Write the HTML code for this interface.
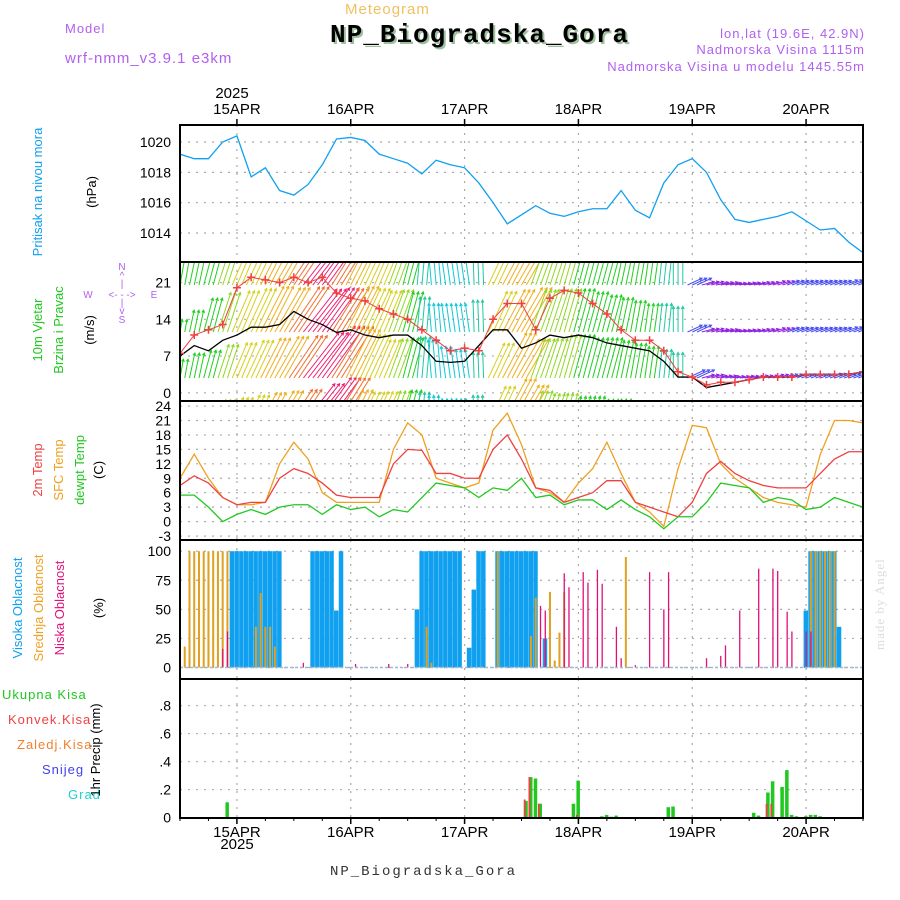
<!DOCTYPE html>
<html><head><meta charset="utf-8"><style>
html,body{margin:0;padding:0;background:#fff}
svg{display:block;font-family:"Liberation Sans",sans-serif}
</style></head><body>
<svg id="chart" width="900" height="900" viewBox="0 0 900 900">
<rect x="0" y="0" width="900" height="900" fill="#fff"/>
<text x="345" y="14" fill="#f0c060" font-size="15" letter-spacing="1">Meteogram</text>
<text x="65" y="33" fill="#b060f0" font-size="13" letter-spacing="1">Model</text>
<text x="65" y="63" fill="#b060f0" font-size="15" letter-spacing="1">wrf-nmm_v3.9.1 e3km</text>
<text x="332" y="44" fill="#9fc09f" font-size="26" font-weight="bold" font-family="Liberation Mono,monospace" textLength="298">NP_Biogradska_Gora</text>
<text x="330" y="42" fill="#000" font-size="26" font-weight="bold" font-family="Liberation Mono,monospace" textLength="298">NP_Biogradska_Gora</text>
<text x="865" y="38" fill="#b060f0" font-size="13" text-anchor="end" letter-spacing="1">lon,lat (19.6E, 42.9N)</text>
<text x="865" y="54" fill="#b060f0" font-size="13" text-anchor="end" letter-spacing="1">Nadmorska Visina 1115m</text>
<text x="865" y="71" fill="#b060f0" font-size="13" text-anchor="end" letter-spacing="1">Nadmorska Visina u modelu 1445.55m</text>
<text x="232" y="98" font-size="15" text-anchor="middle">2025</text>
<text x="237" y="849" font-size="15" text-anchor="middle">2025</text>
<text x="330" y="875" font-size="14" fill="#333" font-family="Liberation Mono,monospace" textLength="185">NP_Biogradska_Gora</text>
<text transform="translate(884,650) rotate(-90)" font-size="13" fill="#d8e0d8" font-family="Liberation Serif,serif" letter-spacing="1">made by Angel</text>
<!-- left axis titles -->
<text transform="translate(42,192) rotate(-90)" text-anchor="middle" font-size="13" fill="#10a0f0">Pritisak na nivou mora</text>
<text transform="translate(96,192) rotate(-90)" text-anchor="middle" font-size="13">(hPa)</text>
<text transform="translate(42,330) rotate(-90)" text-anchor="middle" font-size="13" fill="#20c820">10m Vjetar</text>
<text transform="translate(63,330) rotate(-90)" text-anchor="middle" font-size="13" fill="#20c820">Brzina i Pravac</text>
<text transform="translate(94,330) rotate(-90)" text-anchor="middle" font-size="13">(m/s)</text>
<g fill="#b060f0" font-size="10" text-anchor="middle">
<text x="122" y="270">N</text><text x="122" y="279">^</text><text x="122" y="287">|</text>
<text x="122" y="298">&lt;- - -&gt;</text><text x="88" y="298">W</text><text x="154" y="298">E</text>
<text x="122" y="306">|</text><text x="122" y="314">v</text><text x="122" y="323">S</text>
</g>
<text transform="translate(42,470) rotate(-90)" text-anchor="middle" font-size="13" fill="#f04040">2m Temp</text>
<text transform="translate(63,470) rotate(-90)" text-anchor="middle" font-size="13" fill="#f0a020">SFC Temp</text>
<text transform="translate(84,470) rotate(-90)" text-anchor="middle" font-size="13" fill="#20c820">dewpt Temp</text>
<text transform="translate(103,470) rotate(-90)" text-anchor="middle" font-size="13">(C)</text>
<text transform="translate(22,608) rotate(-90)" text-anchor="middle" font-size="13" fill="#10a0f0">Visoka Oblacnost</text>
<text transform="translate(43,608) rotate(-90)" text-anchor="middle" font-size="13" fill="#f0a020">Srednja Oblacnost</text>
<text transform="translate(64,608) rotate(-90)" text-anchor="middle" font-size="13" fill="#e0107a">Niska Oblacnost</text>
<text transform="translate(103,608) rotate(-90)" text-anchor="middle" font-size="13">(%)</text>
<text x="2" y="699" font-size="13" fill="#20c820" letter-spacing="1">Ukupna Kisa</text>
<text x="8" y="724" font-size="13" fill="#f04040" letter-spacing="1">Konvek.Kisa</text>
<text x="17" y="749" font-size="13" fill="#f08030" letter-spacing="1">Zaledj.Kisa</text>
<text x="42" y="774" font-size="13" fill="#4040f0" letter-spacing="1">Snijeg</text>
<text x="68" y="799" font-size="13" fill="#20d0d0" letter-spacing="1">Grad</text>
<text transform="translate(100,750) rotate(-90)" text-anchor="middle" font-size="13">1hr Precip (mm)</text>
<g id="layer"></g>
</svg>
<script>
// ---- data (3-hourly from 14APR 12Z to 20APR 12Z, 49 steps) ----
const dayLabels = ["15APR","16APR","17APR","18APR","19APR","20APR"];
const pressure = [1019.2,1018.9,1018.9,1020.0,1020.4,1017.7,1018.3,1016.8,1016.5,1017.2,1018.5,1020.2,1020.3,1020.1,1019.2,1018.9,1018.6,1017.9,1018.8,1018.5,1018.3,1017.3,1016.0,1014.6,1015.2,1015.8,1015.3,1015.1,1015.4,1015.6,1015.6,1016.8,1015.5,1015.0,1017.3,1018.5,1018.9,1018.0,1016.2,1014.9,1014.7,1014.9,1015.1,1015.4,1014.8,1014.2,1014.3,1013.4,1012.7];
const pressureTicks = [1014,1016,1018,1020];
const windSpeed = [7,9,8,10,11,12.5,12.5,13,15.5,14,13,11.5,12,11,10.5,11,11,9,6,5.8,6,9,12,12,8.5,9.5,11,10.5,11,10.5,9.5,9,8.5,8,6,3,3,1,1.5,2,2.5,3,3,3,3.5,3.5,3.5,3.5,4];
const windGust = [7.5,11,12,13,20,22,21.5,21,22,21,22,19,18,17.5,16,15,14,12,10,8,8.5,8,14,17,17,12,18,19.5,19,17,15,12,10,10,8,4,3,1.5,2,2,2.5,3,3,3,3.5,3.5,3.5,3.5,4];
const windDir = [190,192,195,198,203,205,207,210,214,218,216,212,207,205,203,200,195,185,175,172,172,178,205,208,210,200,198,196,195,195,195,192,190,188,186,180,245,255,258,260,258,255,252,250,250,250,250,250,250];
const windBand1 = [15,15,15,15,16,16,16,17,17,17,17,17,16,16,16,15,15,15,14,14,14,14,15,16,16,16,15,15,15,15,15,15,14,14,14,14,5,4,4,3.5,3.5,3.5,4,4,4,4,4,4.5,5];
const windBand2 = [4,7,11,13,14,15,16,16,17,17,17,16,16,15,14,14,13,11,9,9,9,10,14,15,16,14,14,14,14,13,12,11,10,9,9,8,5,4,4,3.5,3.5,3.5,4,4,4,4,4,4.5,5];
const windBand3 = [6,8,9,11,12,13,14,15,16,18,20,19,17,15,13,13,13,13,12,10,9,8,12,16,14,13,13,14,14,13,13,12,11,10,9,8,6,4,3.5,3,3,3,3.5,3.5,3.5,3.5,4,4,4.5];
const windBand4 = [5,6,7,8,9,10,11,12,13,16,18,17,12,11,11,11,11,10,9,8,8,9,13,16,14,11,10,10,9,9,8,8,7,6,5,4,3,3,3,3,3,3,3,3,3,3,3,3,3];
const windTicks = [0,7,14,21];
const temp2m = [7.5,9.5,8,5,3.5,4,4,9,11,10,8,5.5,5,5,5,12,15,14.8,10,10,9,9,15,18,13,7,6.5,4,5,6,8.5,8.5,4,3,2,1,4,10,12.5,10,8.5,7.5,7,7,7,10,13,14.5,14.5];
const tempSfc = [9,14,9,5,3.5,3.5,4,12,16.5,13,6,4,4,4,4,15,20.5,18,9,8,7,8,19,22.5,16,7,6,4,8,11,16.5,10,4,2,-1,11,20,19.5,12,9,7,5,4,3.5,3,14,21,21,20.5];
const tempDew = [5.5,5.5,3,0,1.5,2.5,1.5,3,3.5,3.5,1.5,3.5,2.5,3,1,2.5,2,5,8,7.5,7,5,7,6.5,9,5,5.5,3.5,4.5,4.5,2.5,4.5,2.5,1,-1.5,1,1,4,8,7.5,7,4,5,4.5,2.5,3,5,4,3];
const tempTicks = [-3,0,3,6,9,12,15,18,21,24];
// cloud cover (hour index from start, percent)
const highHours = [11,12,13,14,15,16,17,18,19,20,21,28,29,30,31,32,33,34,50,51,52,53,54,55,56,57,58,59,61,62,63,64,67,68,69,70,71,72,73,74,75,77,132,133,134,135,136,137,138,139];
const highValues = [100,100,100,100,100,100,100,100,100,100,100,100,100,100,100,100,49,100,50,100,100,100,100,100,100,100,100,100,17,67,100,100,100,100,100,100,100,100,100,100,100,25,49,100,100,100,100,100,100,35];
const midHours = [1,2,3,4,5,6,7,8,9,10,16,17,18,19,20,52,53,67,74,75,78,79,80,81,94,133,134,135,136,137,138];
const midValues = [18,100,100,100,100,100,100,100,100,100,35,64,35,35,18,35,4,100,27,60,65,6,30,65,95,100,100,100,100,100,100];
const lowHours = [9,10,26,37,44,48,76,77,81,82,85,86,88,89,92,93,96,99,102,103,111,114,115,118,122,125,126,128,129,132,133];
const lowValues = [16,31,4,3,3,3,53,49,81,69,82,73,84,72,35,8,2,82,50,82,8,10,19,49,85,85,83,48,31,31,31];
const cloudTicks = [0,25,50,75,100];
// precipitation (hour index, mm)
const precipHours = [10,73,74,75,76,83,84,88,89,90,91,92,103,104,105,121,122,124,125,127,128,129,130,132,133,134,135];
const precipTotal = [0.11,0.12,0.29,0.28,0.10,0.10,0.265,0.005,0.01,0.02,0.007,0.015,0.075,0.08,0.005,0.035,0.015,0.18,0.26,0.22,0.34,0.02,0.01,0.01,0.02,0.02,0.01];
const precipConv = [0,0.13,0.29,0,0.10,0,0.02,0,0,0,0,0,0,0,0,0,0,0.10,0.10,0,0,0,0,0,0,0,0];
const precipTicks = [0.2,0.4,0.6,0.8];

// ---- layout ----
const X0=180, X1=863, NSTEP=48, NHOUR=144;
const P={pres:[125,262],wind:[262,401],temp:[401,540],cloud:[540,679],prec:[679,818]};
const xs = t => X0 + t*(X1-X0)/NSTEP;
const xh = h => X0 + h*(X1-X0)/NHOUR;
const yPres = v => 142 + (1020-v)*15.17;
const yWind = v => 392.8 - v*5.25;
const yTemp = v => 521.6 - v*4.815;
const yCloud = v => 667.5 - v*1.163;
const yPrec = v => 817.7 - v*140;
const NS="http://www.w3.org/2000/svg";
const layer=document.getElementById('layer');
function mk(tag, attrs, parent){const e=document.createElementNS(NS,tag);for(const k in attrs)e.setAttribute(k,attrs[k]);(parent||layer).appendChild(e);return e;}

// clip paths
const defs=mk('defs',{});
for(const k in P){const cp=mk('clipPath',{id:'clip-'+k},defs);mk('rect',{x:X0,y:P[k][0],width:X1-X0,height:P[k][1]-P[k][0]},cp);}

// grid
function grid(key, ticks, yf){
  const g=mk('g',{stroke:'#aaa','stroke-width':1.2,'stroke-dasharray':'2,6'});
  
  
  for(let d=0; d<6; d++){const x=xh(12+24*d);mk('line',{x1:x,x2:x,y1:P[key][0],y2:P[key][1]},g);}
  ticks.forEach(v=>{const y=yf(v);if(y>P[key][0]+1&&y<P[key][1]-1)mk('line',{x1:X0,x2:X1,y1:y,y2:y},g);});
}
function labels(key, ticks, yf, fmt){
  const g=mk('g',{'font-size':14,'text-anchor':'end'});
  
  
  ticks.forEach(v=>{const t=mk('text',{x:171,y:yf(v)+5},g);t.textContent=fmt?fmt(v):v;});
}
grid('pres',pressureTicks,yPres); labels('pres',pressureTicks,yPres);
grid('wind',windTicks,yWind); labels('wind',windTicks,yWind);
grid('temp',tempTicks,yTemp); labels('temp',tempTicks,yTemp);
grid('cloud',cloudTicks,yCloud); labels('cloud',cloudTicks,yCloud);
grid('prec',precipTicks,yPrec); labels('prec',[0].concat(precipTicks),yPrec,v=>v===0?'0':String(v).replace(/^0/,''));

// pressure line
const pl=mk('polyline',{points:pressure.map((v,i)=>xs(i)+','+yPres(v)).join(' '),fill:'none',stroke:'#10a0f0','stroke-width':1.3,'clip-path':'url(#clip-pres)'});



// wind arrows
function dirColor(d){
  if(d>=240) return d>=252?'#9020e0':'#4a50f0';
  if(d<178) return '#10c8d8';
  if(d<188) return '#20c8a0';
  if(d<196) return '#20d020';
  if(d<202) return '#90d820';
  if(d<207) return '#d8d020';
  if(d<211) return '#f0b020';
  if(d<215) return '#f07030';
  return '#f02070';
}
const wg=mk('g',{'clip-path':'url(#clip-wind)','stroke-width':1});


const bands=[[windBand4,424],[windBand3,378],[windBand2,332],[windBand1,285]];
bands.forEach(([arr,base],bi)=>{
  for(let i=0;i<=NSTEP;i++){
    const L=arr[i]*3.2, a=(windDir[i]-180)*Math.PI/180, col=dirColor(windDir[i]);
    for(let k=0;k<3;k++){
      const x=xs(i)+k*(X1-X0)/NHOUR-4.7; const dx=L*Math.sin(a), dy=-L*Math.cos(a);
      const ar=mk('path',{d:`M${x},${base}l${dx},${dy}m${-3*Math.sin(a+0.5)},${3*Math.cos(a+0.5)}l${3*Math.sin(a+0.5)},${-3*Math.cos(a+0.5)}l${-3*Math.sin(a-0.5)},${3*Math.cos(a-0.5)}`,stroke:col,fill:'none'},wg);
      
      
    }
  }
});
const wl=mk('polyline',{points:windSpeed.map((v,i)=>xs(i)+','+yWind(v)).join(' '),fill:'none',stroke:'#000','stroke-width':1.3,'clip-path':'url(#clip-wind)'});


const gl=mk('polyline',{points:windGust.map((v,i)=>xs(i)+','+yWind(v)).join(' '),fill:'none',stroke:'#f04040','stroke-width':1,'clip-path':'url(#clip-wind)'});


const gg=mk('g',{stroke:'#f04040','stroke-width':1.5,'clip-path':'url(#clip-wind)'});


windGust.forEach((v,i)=>{const x=xs(i),y=yWind(v);mk('path',{d:`M${x-4},${y}h8M${x},${y-4}v8`},gg);});

// temperature
[[tempSfc,'#f0a020','sfc-temp-line'],[temp2m,'#f04040','2m-temp-line'],[tempDew,'#20c820','dewpoint-line']].forEach(([arr,c,n])=>{
  const l=mk('polyline',{points:arr.map((v,i)=>xs(i)+','+yTemp(v)).join(' '),fill:'none',stroke:c,'stroke-width':1.3,'clip-path':'url(#clip-temp)'});
  
  
});

// clouds
const cb=mk('g',{'clip-path':'url(#clip-cloud)'});


highHours.forEach((h,i)=>{const r=mk('rect',{x:xh(h)-2.5,y:yCloud(highValues[i]),width:4.5,height:yCloud(0)-yCloud(highValues[i]),fill:'#10a0f0'},cb);
  
  });
midHours.forEach((h,i)=>{const r=mk('rect',{x:xh(h)-1,y:yCloud(midValues[i]),width:2,height:yCloud(0)-yCloud(midValues[i]),fill:'#e0a020'},cb);
  
  });
lowHours.forEach((h,i)=>{const r=mk('rect',{x:xh(h)-0.6,y:yCloud(lowValues[i]),width:1.3,height:yCloud(0)-yCloud(lowValues[i]),fill:'#e0107a'},cb);
  
  });
const cz=mk('line',{x1:X0,x2:X1,y1:yCloud(0),y2:yCloud(0),stroke:'#a0b8d0','stroke-width':1.5,'stroke-dasharray':'3,2'});



// precipitation
const pb=mk('g',{'clip-path':'url(#clip-prec)'});


precipHours.forEach((h,i)=>{
  const r=mk('rect',{x:xh(h)-2,y:yPrec(precipTotal[i]),width:3.5,height:yPrec(0)-yPrec(precipTotal[i]),fill:'#20c820'},pb);
  
  
  if(precipConv[i]>0){const c=mk('rect',{x:xh(h)-2.5,y:yPrec(precipConv[i]),width:1.8,height:yPrec(0)-yPrec(precipConv[i]),fill:'#f04040'},pb);
    
    }
});

// panel frames
for(const k in P){const r=mk('rect',{x:X0,y:P[k][0],width:X1-X0,height:P[k][1]-P[k][0],fill:'none',stroke:'#000','stroke-width':2});
  
  }

// time axes
const ax=mk('g',{'font-size':15,'text-anchor':'middle'});


dayLabels.forEach((lab,d)=>{
  const x=xh(12+24*d);
  const t1=mk('text',{x:x,y:114},ax); t1.textContent=lab;
  
  
  const t2=mk('text',{x:x,y:837},ax); t2.textContent=lab;
  
  
  mk('line',{x1:x,x2:x,y1:119,y2:125,stroke:'#000','stroke-width':1.5},ax);
  mk('line',{x1:x,x2:x,y1:818,y2:824,stroke:'#000','stroke-width':1.5},ax);
});
for(let h=0;h<=NHOUR;h+=6){const x=xh(h);mk('line',{x1:x,x2:x,y1:818,y2:821,stroke:'#000'},ax);}
</script>
</body></html>
